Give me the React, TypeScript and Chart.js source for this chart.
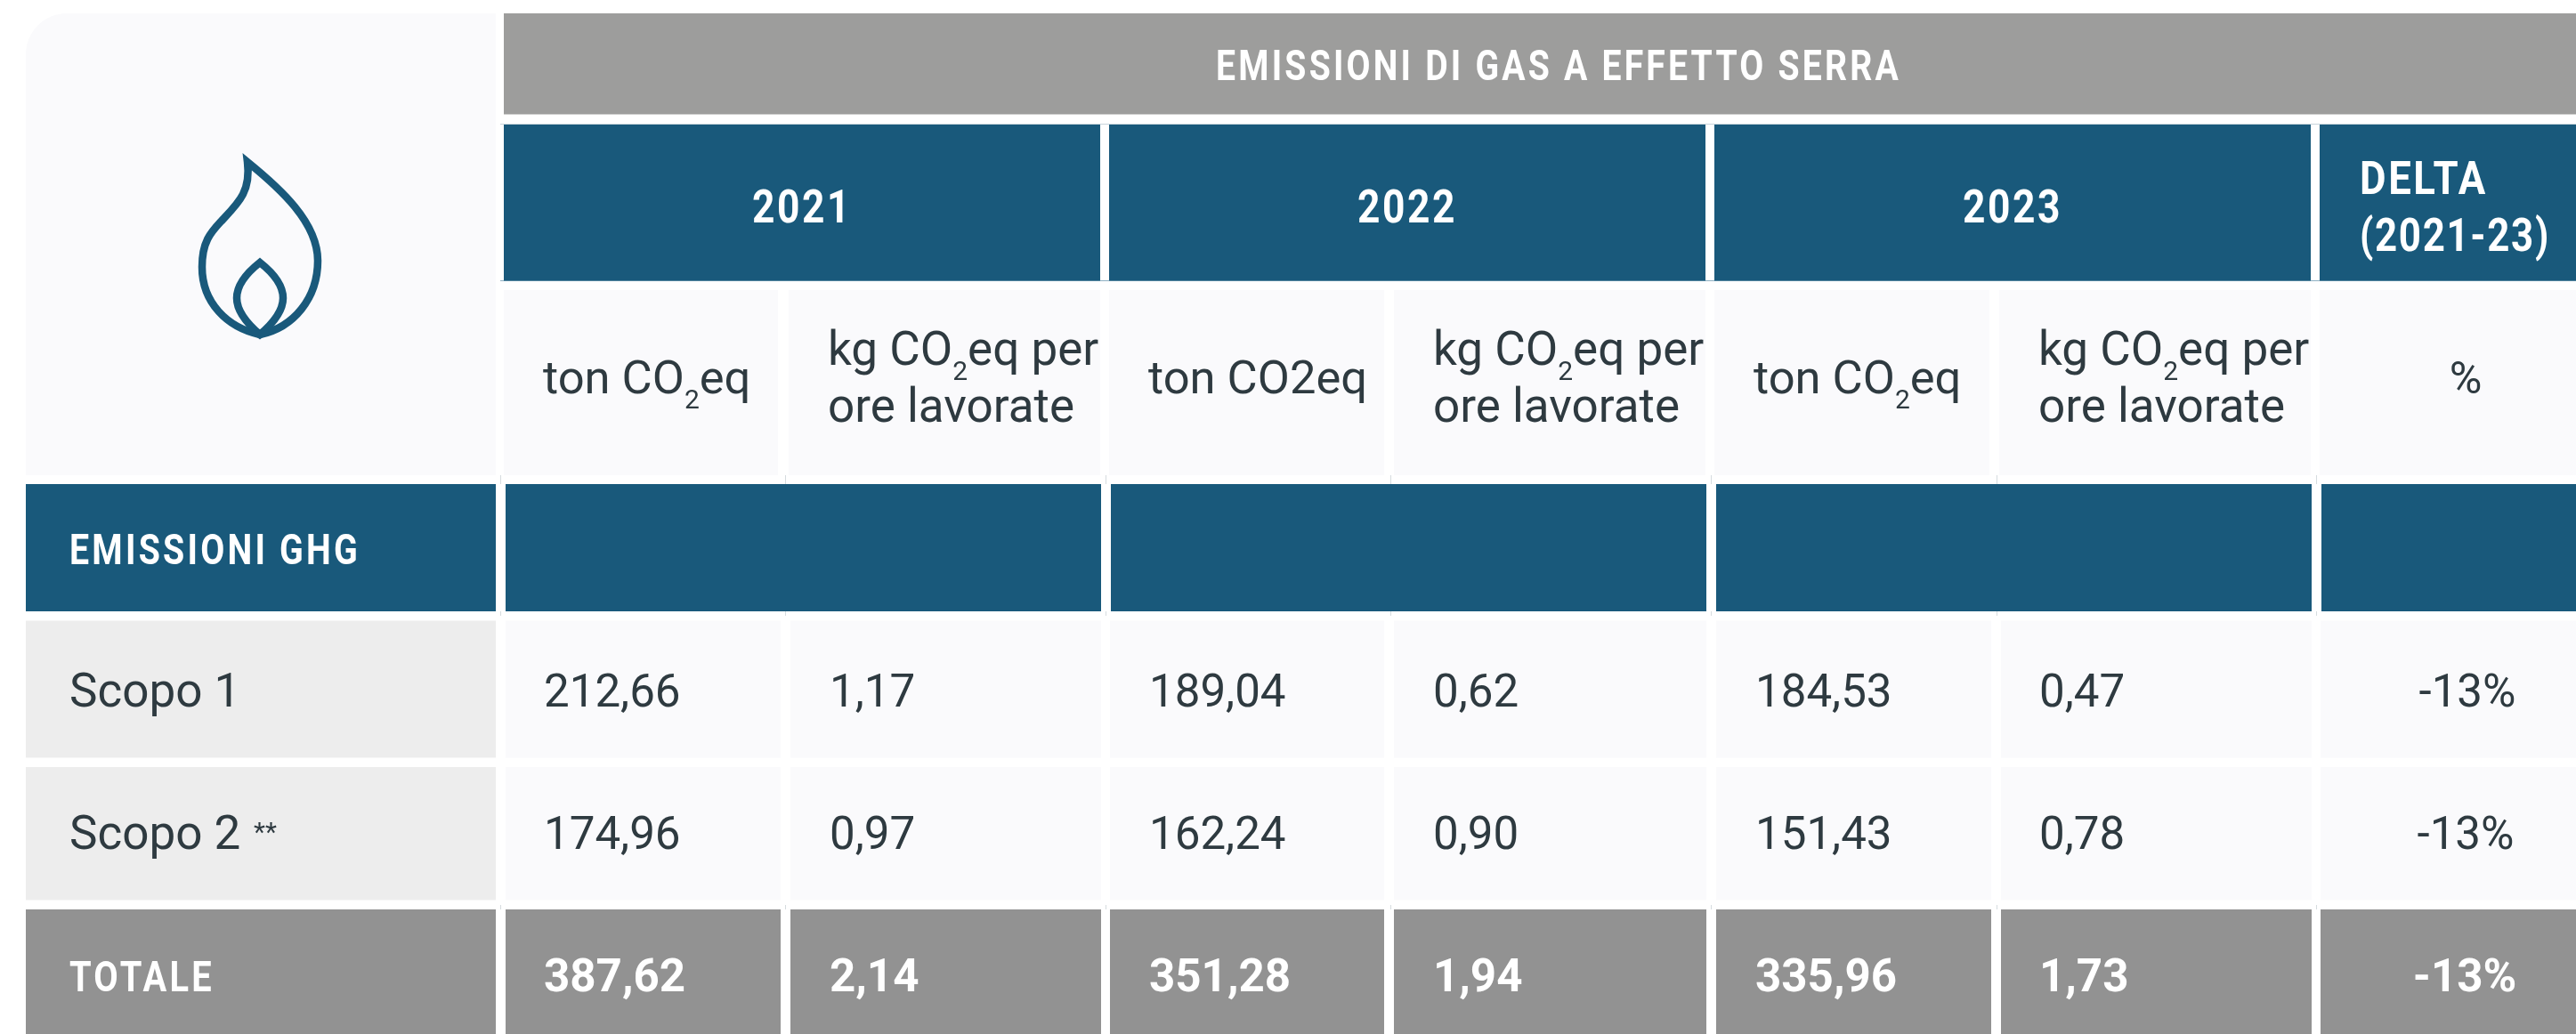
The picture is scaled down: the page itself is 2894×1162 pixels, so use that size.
import React, { useEffect, useRef } from "react";
import { Chart, registerables } from "chart.js";

Chart.register(...registerables);

// ---- data ----
const title = "EMISSIONI DI GAS A EFFETTO SERRA";
const years = ["2021", "2022", "2023"];
const deltaHeader = ["DELTA", "(2021-23)"];
const sectionLabel = "EMISSIONI GHG";
const rowLabels = ["Scopo 1", "Scopo 2", "TOTALE"];
const scopo1Values = [212.66, 1.17, 189.04, 0.62, 184.53, 0.47];
const scopo2Values = [174.96, 0.97, 162.24, 0.9, 151.43, 0.78];
const totalValues = [387.62, 2.14, 351.28, 1.94, 335.96, 1.73];
const deltaValues = [-13, -13, -13];

// ---- layout, in scale units ----
const W = 2894;
const H = 1162;
const FONT = "Roboto";
const BLUE = "#19597b";
const HEAD_GREY = "#9d9d9c";
const TOTAL_GREY = "#929292";
const LABEL_GREY = "#ededed";
const PALE = "#fafafc";
const INK = "#2e3a40";
const WHITE = "#ffffff";

const bodyCols: [number, number][] = [[568, 877], [888, 1237], [1247, 1555], [1566, 1917], [1928, 2237], [2248, 2597], [2607, 2894]];
const subCols: [number, number][] = [[566, 874], [886, 1236], [1246, 1555], [1566, 1916], [1926, 2235], [2246, 2596], [2606, 2894]];
const yearCols: [number, number][] = [[566, 1236], [1246, 1916], [1926, 2596], [2606, 2894]];
const valueX = [611, 932, 1291, 1610, 1972, 2291];
const deltaCx = [2772, 2770, 2769];
const subX = [610, 930, 1290, 1610, 1970, 2290];
const rowY: [number, number][] = [[697.5, 851.5], [862, 1011.5], [1022, 1162]];
const rowBase = [793.5, 953.5, 1113.5];
const tickX = [562, 882, 1242, 1562, 1922, 2243, 2602];

type Seg = { t: string; sub?: boolean };
const co2 = (suffix: string): Seg[] => [{ t: "CO" }, { t: "2", sub: true }, { t: suffix }];

function fmt(v: number) {
  return v.toFixed(2).replace(".", ",");
}

const tablePlugin = {
  id: "table",
  beforeDatasetsDraw(chart: any) {
    const { ctx, scales } = chart;
    (ctx as any).fontKerning = "normal";
    (ctx as any).textRendering = "optimizeLegibility";
    const X = (v: number) => scales.x.getPixelForValue(v);
    const Y = (v: number) => scales.y.getPixelForValue(v);
    const rect = (x0: number, y0: number, x1: number, y1: number, c: string) => {
      ctx.fillStyle = c;
      ctx.fillRect(X(x0), Y(y0), X(x1) - X(x0), Y(y1) - Y(y0));
    };
    const text = (s: string, x: number, y: number, size: number, weight: number, color: string, align: CanvasTextAlign = "left", maxW?: number, sp = 0) => {
      ctx.font = `${weight} ${size}px ${FONT}`;
      (ctx as any).letterSpacing = `${sp}px`;
      ctx.fillStyle = color;
      ctx.textAlign = align;
      ctx.textBaseline = "alphabetic";
      if (maxW) ctx.fillText(s, X(x), Y(y), maxW);
      else ctx.fillText(s, X(x), Y(y));
      (ctx as any).letterSpacing = "0px";
    };
    const rich = (segs: Seg[], x: number, y: number, size: number) => {
      let cx = x;
      for (const seg of segs) {
        const sz = seg.sub ? 30 : size;
        const by = seg.sub ? y + 17 : y;
        text(seg.t, cx, by, sz, 400, INK);
        cx += ctx.measureText(seg.t).width;
      }
      return cx;
    };

    // background card
    ctx.fillStyle = PALE;
    ctx.beginPath();
    ctx.roundRect(X(29), Y(15), X(557) - X(29), Y(534) - Y(15), [46, 0, 0, 0]);
    ctx.fill();

    // title band
    rect(566, 15, W, 128.5, HEAD_GREY);
    text(title, 1751, 90, 49, 700, WHITE, "center", 770, 4);

    // hairlines
    rect(562, 139, W, 140, "#c8d5dc");
    rect(562, 315, W, 316, "#8fb0c2");

    // year band
    yearCols.forEach(([a, b]) => rect(a, 140, b, 315.5, BLUE));
    years.forEach((y, i) => {
      const [a, b] = yearCols[i];
      text(y, (a + b) / 2, 249.5, 52, 700, WHITE, "center", 112, 3);
    });
    text(deltaHeader[0], 2651, 217.5, 52, 700, WHITE, "left", 144, 3);
    text(deltaHeader[1], 2651, 282, 52, 700, WHITE, "left", 214, 2);

    // sub-headers
    subCols.forEach(([a, b]) => rect(a, 326, b, 534, PALE));
    subX.forEach((x, i) => {
      if (i % 2 === 0) {
        if (i === 2) {
          text("ton CO2eq", x, 442, 52.5, 400, INK);
        } else {
          rich([{ t: "ton " }, ...co2("eq")], x, 442, 52.5);
        }
      } else {
        rich([{ t: "kg " }, ...co2("eq per")], x, 409.5, 53);
        text("ore lavorate", x, 473.5, 53, 400, INK);
      }
    });
    text("%", 2770, 442, 50, 400, INK, "center");

    // section band
    rect(29, 544, 557, 687, BLUE);
    yearCols.forEach(([a, b]) => rect(a + 2, 544, b + 1, 687, BLUE));
    text(sectionLabel, 78, 633.5, 49, 700, WHITE, "left", 327, 4);

    // small separators between rows
    tickX.forEach((x) => {
      rect(x, 534, x + 1, 544, "#d6dcdf");
      rect(x, 687, x + 1, 692, "#d6dcdf");
      rect(x, 1017, x + 1, 1022, "#d6dcdf");
    });

    // body rows
    rowY.forEach(([y0, y1], r) => {
      const total = r === 2;
      rect(29, y0, 557, y1, total ? TOTAL_GREY : LABEL_GREY);
      bodyCols.forEach(([a, b]) => rect(a, y0, b, y1, total ? TOTAL_GREY : PALE));
      if (total) text(rowLabels[r], 78, rowBase[r], 49, 700, WHITE, "left", 163, 4);
      else text(rowLabels[r], 78, rowBase[r], 53, 400, INK);
    });
    text("**", 285, 945, 30, 400, INK);

    // flame icon
    ctx.save();
    ctx.translate(X(180), Y(150));
    ctx.strokeStyle = BLUE;
    ctx.lineWidth = 8.5;
    ctx.lineJoin = "miter";
    ctx.miterLimit = 10;
    ctx.beginPath();
    ctx.moveTo(98, 32);
    ctx.bezierCurveTo(135, 62, 177, 100, 177, 143);
    ctx.bezierCurveTo(177, 185, 150, 218, 112, 226);
    ctx.bezierCurveTo(75, 218, 47, 190, 47, 150);
    ctx.bezierCurveTo(47, 120, 58, 110, 70, 97);
    ctx.bezierCurveTo(88, 78, 102, 65, 98, 32);
    ctx.closePath();
    ctx.stroke();
    ctx.beginPath();
    ctx.moveTo(112, 145);
    ctx.bezierCurveTo(126, 156, 138, 170, 138, 185);
    ctx.bezierCurveTo(138, 200, 126, 214, 112, 226);
    ctx.bezierCurveTo(98, 214, 86, 200, 86, 185);
    ctx.bezierCurveTo(86, 170, 98, 156, 112, 145);
    ctx.closePath();
    ctx.stroke();
    ctx.restore();
  },
  afterDatasetsDraw(chart: any) {
    const { ctx } = chart;
    chart.data.datasets.forEach((ds: any, di: number) => {
      const meta = chart.getDatasetMeta(di);
      meta.data.forEach((pt: any, i: number) => {
        const raw = ds.data[i];
        ctx.font = `${ds.totalRow ? 700 : 400} 52px ${FONT}`;
        ctx.fillStyle = ds.totalRow ? WHITE : INK;
        ctx.textAlign = raw.align;
        ctx.textBaseline = "alphabetic";
        const w = ctx.measureText(raw.label).width;
        ctx.fillText(raw.label, pt.x, pt.y, w * 0.982);
      });
    });
  },
};

export default function App() {
  const ref = useRef<HTMLCanvasElement>(null);
  useEffect(() => {
    document.body.style.margin = "0";
    document.body.style.background = "#fff";
    const series = [scopo1Values, scopo2Values, totalValues];
    const datasets = series.map((vals, r) => ({
      label: rowLabels[r],
      totalRow: r === 2,
      pointRadius: 0,
      data: [
        ...vals.map((v, c) => ({ x: valueX[c], y: rowBase[r], label: fmt(v), align: "left" })),
        { x: deltaCx[r], y: rowBase[r], label: `${deltaValues[r]}%`, align: "center" },
      ],
    }));
    const chart = new Chart(ref.current!, {
      type: "scatter",
      data: { datasets } as any,
      options: {
        animation: false,
        responsive: false,
        layout: { padding: 0 },
        plugins: { legend: { display: false }, tooltip: { enabled: false }, title: { display: false } },
        scales: {
          x: { type: "linear", min: 0, max: W, display: false },
          y: { type: "linear", min: 0, max: H, reverse: true, display: false },
        },
      },
      plugins: [tablePlugin],
    } as any);
    return () => chart.destroy();
  }, []);
  return <canvas ref={ref} width={W} height={H} style={{ display: "block", width: W, height: H }} />;
}
